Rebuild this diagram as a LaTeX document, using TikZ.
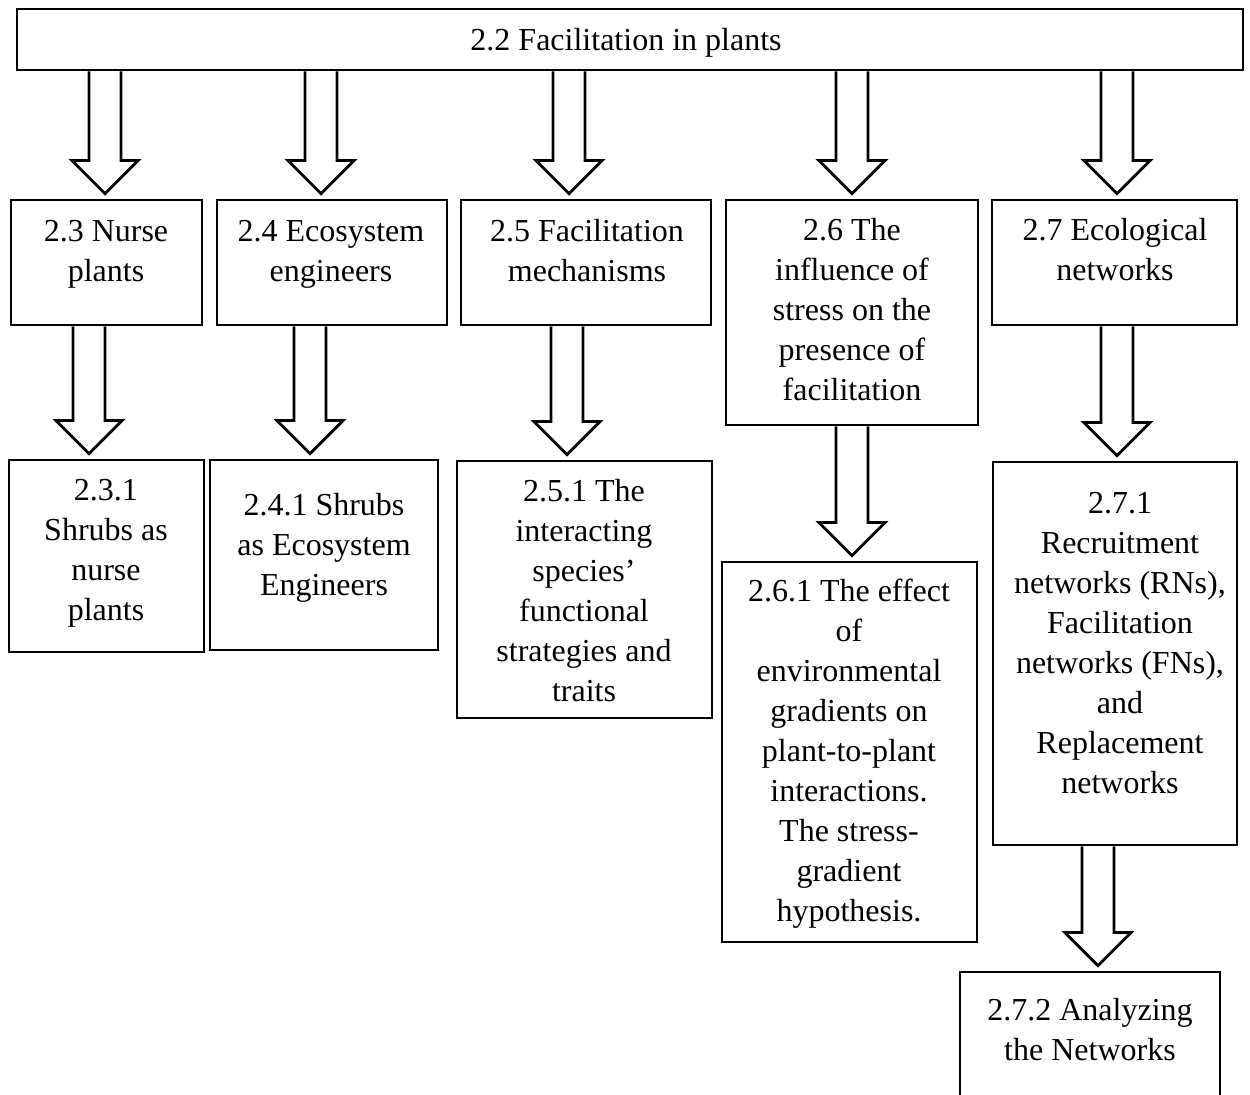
\documentclass[tikz,border=0pt]{standalone}
\usepackage{fontspec}
\setmainfont{Liberation Serif}
\usetikzlibrary{calc,fit}
\tikzset{
  box/.style={draw, line width=1.4pt, inner sep=0pt},
  txt/.style={anchor=north, align=center, inner sep=0pt, font=\fontsize{16}{20}\selectfont},
  blockarrow/.style={draw, fill=white, line width=1.4pt, line join=miter},
}
\newcommand\barrow[3]{%
  \path[blockarrow] let \p0=(#1,0), \p1=(#2.south), \p2=(#3.north) in
    ({\x0-8pt},\y1) -- ({\x0-8pt},{\y2+19pt}) -- ({\x0-16.5pt},{\y2+19pt}) --
    (\x0,{\y2+2.5pt}) -- ({\x0+16.5pt},{\y2+19pt}) -- ({\x0+8pt},{\y2+19pt}) --
    ({\x0+8pt},\y1);
}
\begin{document}
\begin{tikzpicture}[x=0.5pt,y=-0.5pt]
\useasboundingbox (0,0) rectangle (1250,1095);
\clip (0,0) rectangle (1250,1095);
% boxes
\node[box, fit={(17,9) (1243,70)}] (b22) {};
\node[box, fit={(11,200) (202,325)}] (b23) {};
\node[box, fit={(217,200) (447,325)}] (b24) {};
\node[box, fit={(461,200) (711,325)}] (b25) {};
\node[box, fit={(726,200) (978,425)}] (b26) {};
\node[box, fit={(992,200) (1237,325)}] (b27) {};
\node[box, fit={(9,460) (204,652)}] (b231) {};
\node[box, fit={(210,460) (438,650)}] (b241) {};
\node[box, fit={(457,461) (712,718)}] (b251) {};
\node[box, fit={(722,562) (977,942)}] (b261) {};
\node[box, fit={(993,462) (1237,845)}] (b271) {};
\node[box, fit={(960,972) (1220,1120)}] (b272) {};
% texts
\node[txt] (t22) at (626,22) {\strut 2.2 Facilitation in plants};
\node[txt] (t23) at (106,213) {\strut 2.3 Nurse\\plants};
\node[txt] (t24) at (331,213) {\strut 2.4 Ecosystem\\engineers};
\node[txt] (t25) at (587,213) {\strut 2.5 Facilitation\\mechanisms};
\node[txt] (t26) at (852,212) {\strut 2.6 The\\influence of\\stress on the\\presence of\\facilitation};
\node[txt] (t27) at (1115,212) {\strut 2.7 Ecological\\networks};
\node[txt] (t231) at (106,472) {\strut 2.3.1\\Shrubs as\\nurse\\plants};
\node[txt] (t241) at (324,487) {\strut 2.4.1 Shrubs\\as Ecosystem\\Engineers};
\node[txt] (t251) at (584,473) {\strut 2.5.1 The\\interacting\\species’\\functional\\strategies and\\traits};
\node[txt] (t261) at (849,573) {\strut 2.6.1 The effect\\of\\environmental\\gradients on\\plant-to-plant\\interactions.\\The stress-\\gradient\\hypothesis.};
\node[txt] (t271) at (1120,485) {\strut 2.7.1\\Recruitment\\networks (RNs),\\Facilitation\\networks (FNs),\\and\\Replacement\\networks};
\node[txt] (t272) at (1090,992) {\strut 2.7.2 Analyzing\\the Networks};
% arrows
\barrow{105}{b22}{b23}
\barrow{321}{b22}{b24}
\barrow{569}{b22}{b25}
\barrow{852}{b22}{b26}
\barrow{1117}{b22}{b27}
\barrow{89}{b23}{b231}
\barrow{310}{b24}{b241}
\barrow{567}{b25}{b251}
\barrow{852}{b26}{b261}
\barrow{1117}{b27}{b271}
\barrow{1098}{b271}{b272}
\end{tikzpicture}
\end{document}
